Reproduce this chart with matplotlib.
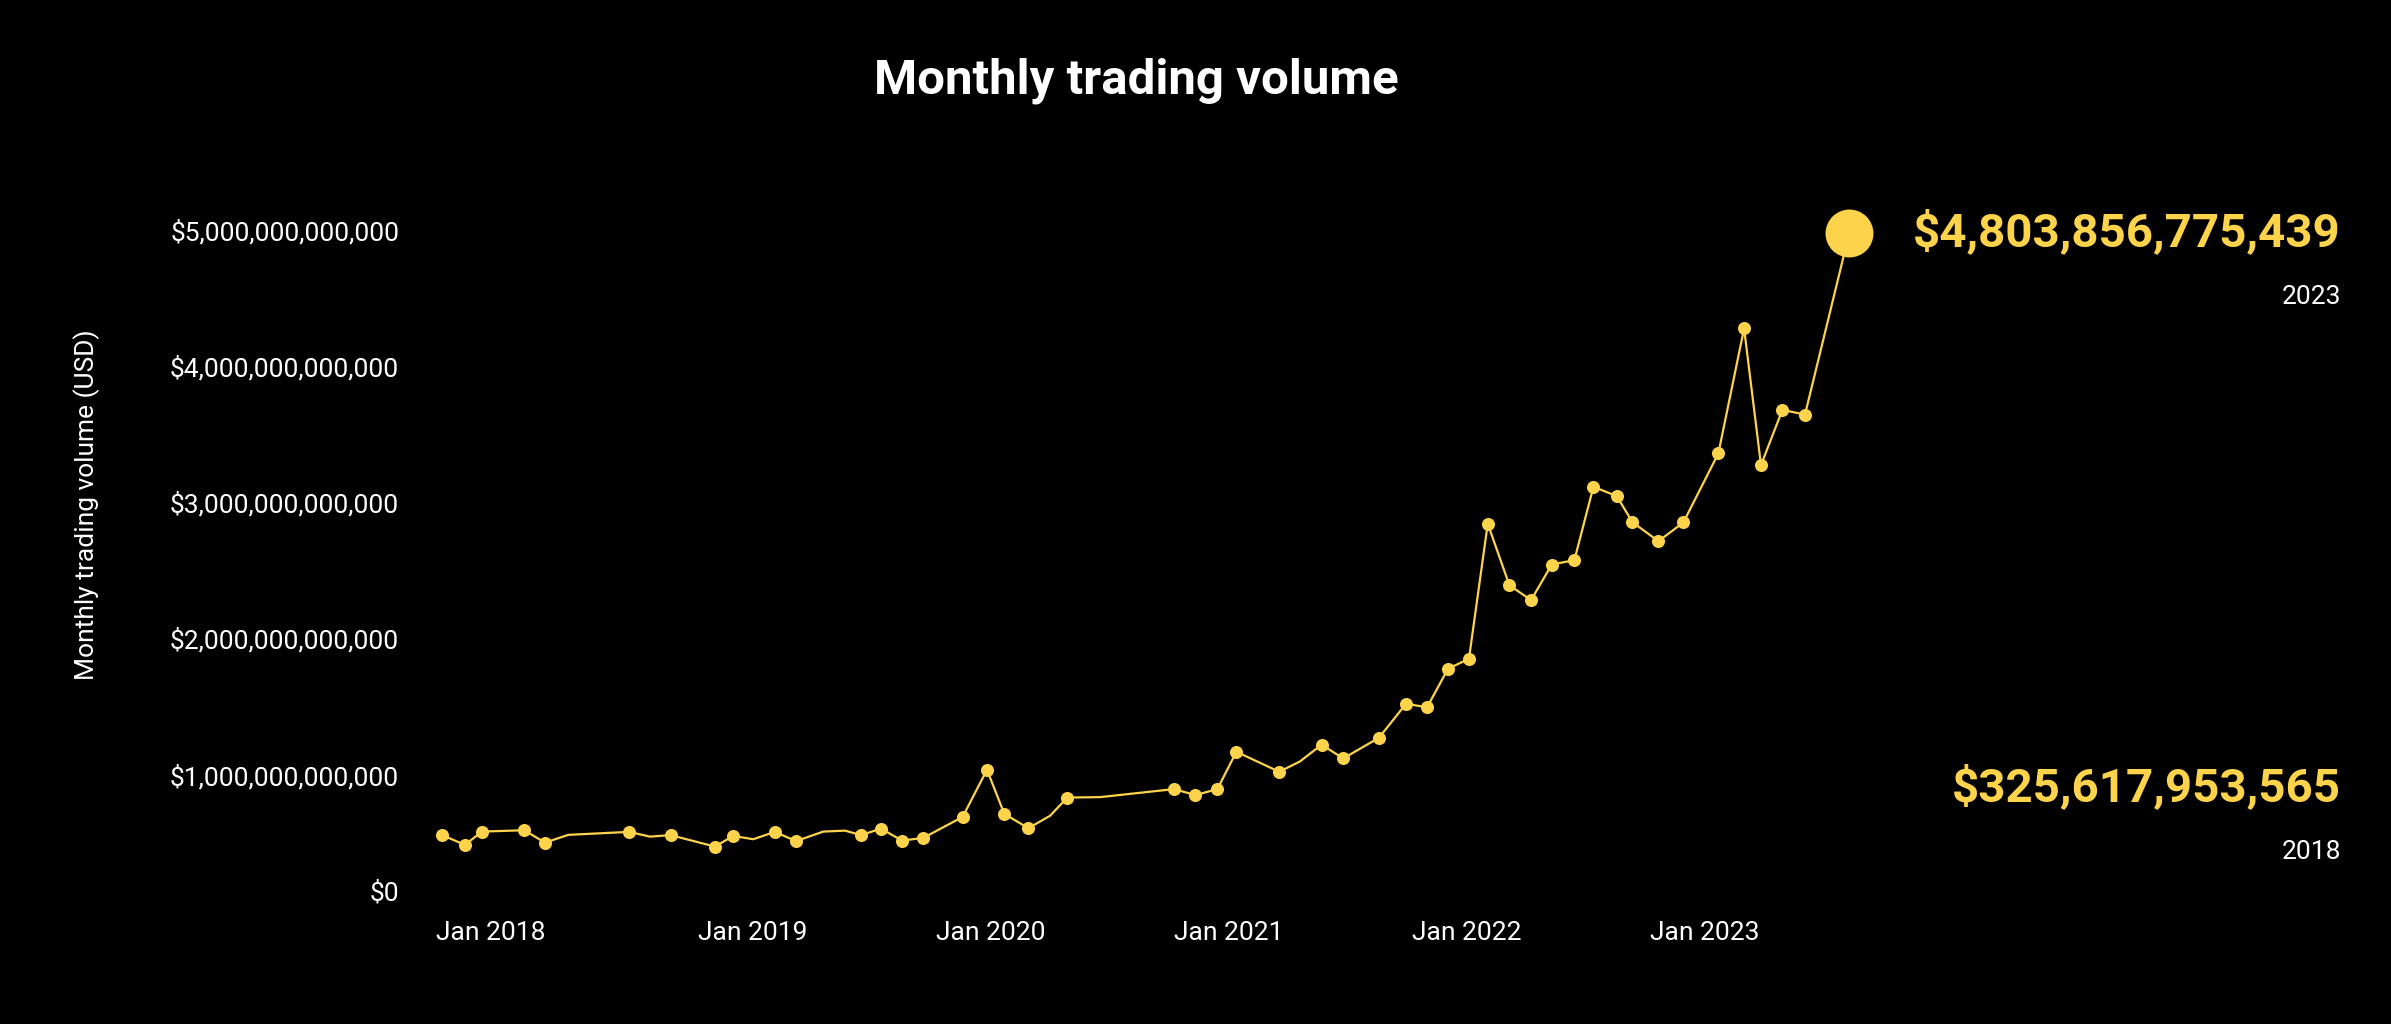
import matplotlib
matplotlib.use("Agg")
import matplotlib.pyplot as plt
import matplotlib.transforms as mtransforms
import numpy as np

plt.rcParams['font.family'] = ['Roboto', 'DejaVu Sans']

# x positions as decimal years, values in USD
dates = [2017.692, 2017.790, 2017.861, 2018.039, 2018.126, 2018.224, 2018.480, 2018.567,
         2018.654, 2018.840, 2018.917, 2019.001, 2019.092, 2019.181, 2019.295, 2019.387,
         2019.454, 2019.538, 2019.626, 2019.716, 2019.881, 2019.983, 2020.056, 2020.157,
         2020.248, 2020.321, 2020.458, 2020.769, 2020.859, 2020.951, 2021.031, 2021.211,
         2021.298, 2021.389, 2021.480, 2021.630, 2021.744, 2021.832, 2021.920, 2022.008,
         2022.087, 2022.178, 2022.269, 2022.356, 2022.451, 2022.531, 2022.629, 2022.695,
         2022.804, 2022.909, 2023.056, 2023.164, 2023.235, 2023.325, 2023.420, 2023.606]
volume_t = [0.559, 0.485, 0.583, 0.593, 0.502, 0.559, 0.581, 0.546,
            0.557, 0.473, 0.551, 0.527, 0.581, 0.513, 0.583, 0.590,
            0.557, 0.605, 0.517, 0.537, 0.691, 1.037, 0.713, 0.608,
            0.699, 0.833, 0.836, 0.895, 0.851, 0.895, 1.169, 1.022,
            1.098, 1.221, 1.120, 1.272, 1.522, 1.495, 1.779, 1.851,
            2.843, 2.392, 2.282, 2.544, 2.576, 3.115, 3.046, 2.855,
            2.715, 2.853, 3.360, 4.277, 3.274, 3.679, 3.645, 4.978]
# months that carry a point marker (the others are only line vertices)
marked = [1, 1, 1, 1, 1, 0, 1, 0,
          1, 1, 1, 0, 1, 1, 0, 0,
          1, 1, 1, 1, 1, 1, 1, 1,
          0, 1, 0, 1, 1, 1, 1, 1,
          0, 1, 1, 1, 1, 1, 1, 1,
          1, 1, 1, 1, 1, 1, 1, 1,
          1, 1, 1, 1, 1, 1, 1, 1]

year_ticks = [2018, 2019, 2020, 2021, 2022, 2023]
year_labels = ["Jan 2018", "Jan 2019", "Jan 2020", "Jan 2021", "Jan 2022", "Jan 2023"]
y_ticks = [0, 1e12, 2e12, 3e12, 4e12, 5e12]

title = "Monthly trading volume"
latest_value = "$4,803,856,775,439"
latest_year = "2023"
first_value = "$325,617,953,565"
first_year = "2018"

yellow = "#FCD34B"
bg = "black"

x = np.array(dates)
y = np.array(volume_t) * 1e12
m = np.array(marked, dtype=bool)

W, H = 2391, 1024
fig = plt.figure(figsize=(W / 100, H / 100), dpi=100, facecolor=bg)
ax = fig.add_axes([420 / W, (H - 911) / H, 1450 / W, (911 - 230) / H])
ax.set_facecolor(bg)

ax.plot(x, y, color=yellow, lw=1.6, zorder=2, clip_on=False)
ax.plot(x[m][:-1], y[m][:-1], 'o', color=yellow, ms=9.4, mew=0, zorder=3, clip_on=False)
ax.plot(x[-1:], y[-1:], 'o', color=yellow, ms=34.5, mew=0, zorder=4, clip_on=False)

ax.set_xlim(2017.601, 2023.693)
ax.set_ylim(0, 5e12)

ax.set_xticks(year_ticks)
ax.set_xticklabels(year_labels)
ax.set_yticks(y_ticks)
ax.set_yticklabels(["${:,.0f}".format(v) for v in y_ticks])
ax.tick_params(axis='both', length=0, colors='white', labelsize=19)
ax.tick_params(axis='y', pad=15)
ax.tick_params(axis='x', pad=7)
for s in ax.spines.values():
    s.set_visible(False)

# the $0 label sits a little above the baseline
lab0 = ax.get_yticklabels()[0]
lab0.set_transform(lab0.get_transform() + mtransforms.ScaledTranslation(0, 20 / 100, fig.dpi_scale_trans))

# first x label is nudged left in the reference
labx = ax.get_xticklabels()[0]
labx.set_transform(labx.get_transform() + mtransforms.ScaledTranslation(-24 / 100, 0, fig.dpi_scale_trans))

fig.text(87 / W, 1 - 505 / H, "Monthly trading volume (USD)", rotation=90, color='white',
         fontsize=19, ha='center', va='center')
fig.text(1136 / W, 1 - 81 / H, title, color='white', fontsize=35.5, fontweight='bold',
         ha='center', va='center')

fig.text(2341 / W, 1 - 232 / H, latest_value, color=yellow, fontsize=34.2, fontweight='bold',
         ha='right', va='center')
fig.text(2341 / W, 1 - 297 / H, latest_year, color='white', fontsize=19, ha='right', va='center')
fig.text(2341 / W, 1 - 787 / H, first_value, color=yellow, fontsize=34.2, fontweight='bold',
         ha='right', va='center')
fig.text(2341 / W, 1 - 852 / H, first_year, color='white', fontsize=19, ha='right', va='center')

fig.savefig("out.png", dpi=100, facecolor=bg)
